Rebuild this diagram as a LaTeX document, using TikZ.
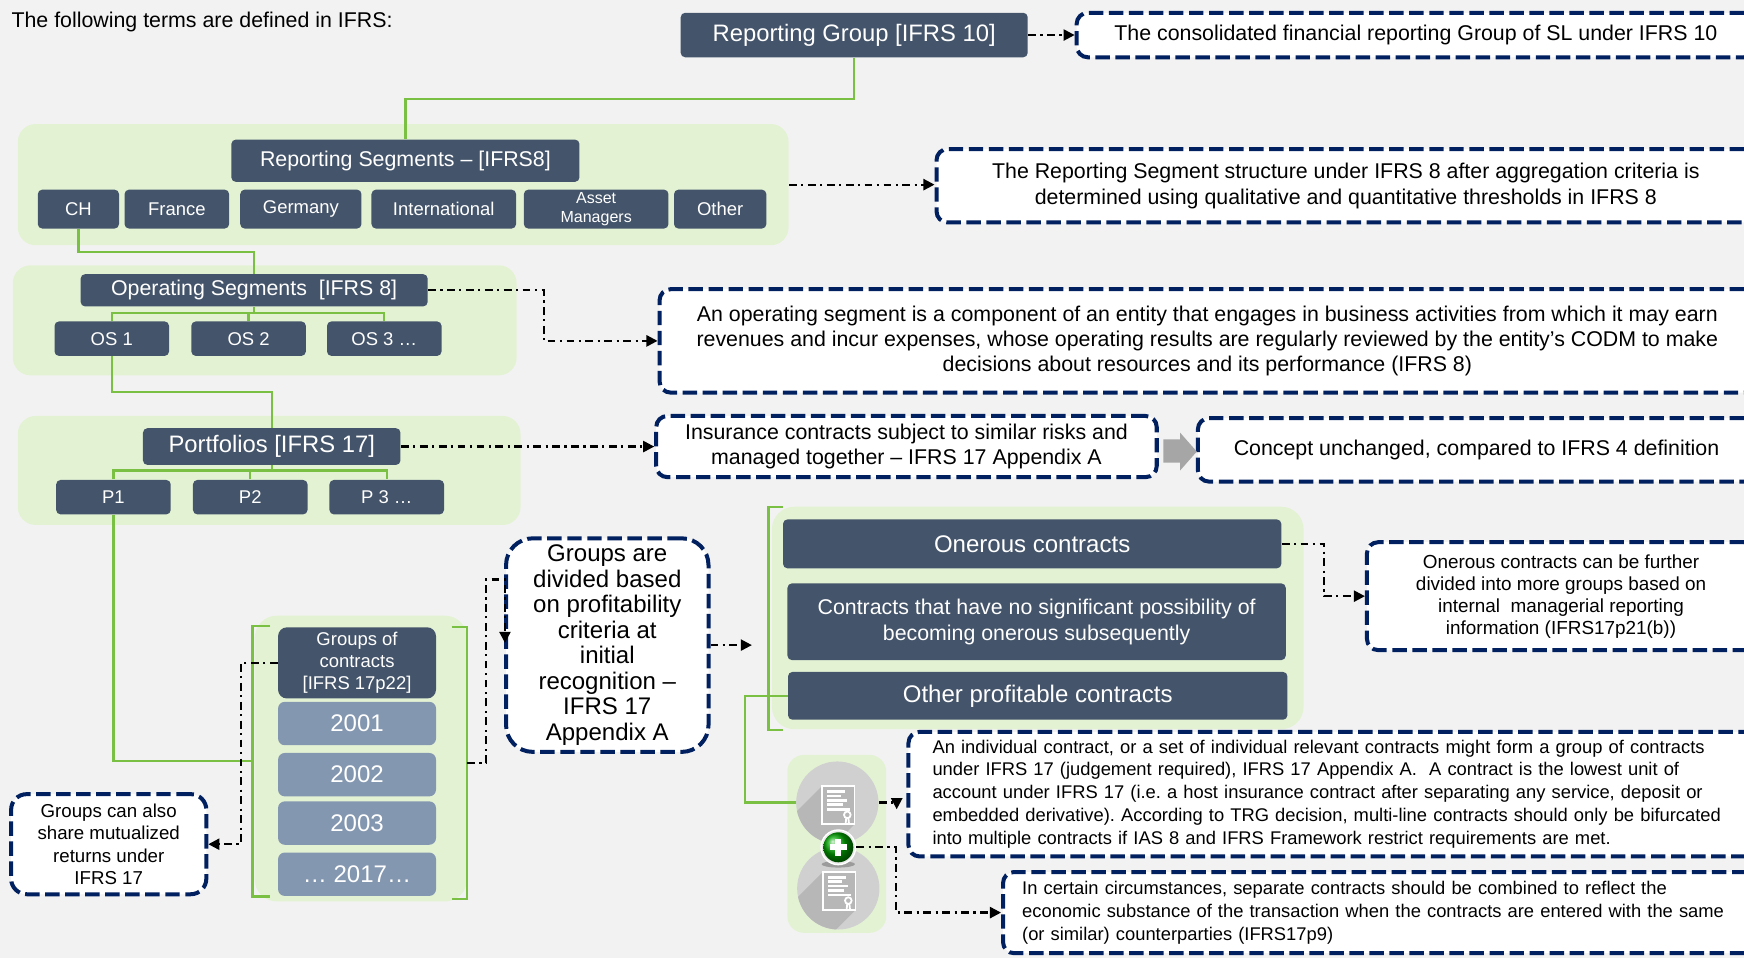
\documentclass[tikz,border=0pt]{standalone}
\usepackage{fontspec}
\setmainfont{Liberation Sans}
\usepackage{tikz}
\usetikzlibrary{arrows.meta}
\frenchspacing
\definecolor{slate}{HTML}{44546A}
\definecolor{yearblue}{HTML}{8497B0}
\definecolor{zonegreen}{HTML}{E4F2D4}
\definecolor{linegreen}{HTML}{7AC143}
\definecolor{navy}{HTML}{002060}
\definecolor{bgc}{HTML}{F2F2F2}
\definecolor{disc}{HTML}{D0D0D0}
\tikzset{dd/.style = {line width=1pt, dash pattern=on 3.5pt off 2pt on 1pt off 2pt,
                      -{Triangle[length=5pt,width=5pt]}}}
\tikzset{
dk/.style={fill=slate, text=white, rounded corners=2pt, inner sep=0pt, align=center},
yr/.style={fill=yearblue, text=white, rounded corners=3pt, inner sep=0pt,
           minimum width=71pt, minimum height=19.5pt, font=\fontsize{10.8}{12}\selectfont},
zone/.style={fill=zonegreen, rounded corners=8pt, inner sep=0pt},
note/.style={draw=navy, line width=1.8pt, dash pattern=on 6.5pt off 2.5pt, fill=white,
             rounded corners=5pt, inner sep=0pt, align=center, font=\fontsize{9.6}{11.3}\selectfont},
gl/.style={draw=linegreen, line width=1pt},
seg/.style={dk, minimum height=17.5pt, font=\fontsize{8.3}{9}\selectfont},
leaf/.style={dk, minimum width=51.5pt, minimum height=15.5pt, font=\fontsize{8.3}{9}\selectfont},
docicon/.pic={
  \begin{scope}
  \clip (0,0) circle (37);
  \fill[disc!88!black] (-13.5,-15) -- (-73.5,45) -- (-73.5,79.5) -- (-44.5,79.5) -- (15.5,19.5) -- (15.5,-15) -- cycle;
  \end{scope}
  \draw[white, line width=.8pt] (-13.5,-15) rectangle (15.5,19.5);
  \foreach \y/\l in {-10/16, -6/12, -2/18, 2/14, 6/20}
    \draw[white, line width=1.2pt] (-9,\y) -- ++(\l,0);
  \draw[white, line width=.8pt] (9,11) circle (3);
  \draw[white, line width=.8pt] (8,14) -- (7.5,19) (10,14) -- (10.5,19);
}
}

\begin{document}
\begin{tikzpicture}[x=0.5pt, y=-0.5pt]
		\useasboundingbox (0,0) rectangle (1568,861);
		\clip (0,0) rectangle (1568,861);
		\fill[bgc] (0,0) rectangle (1568,861);
		\node[anchor=west, inner sep=0pt, font=\fontsize{9.6}{11}\selectfont] (99) at (10,20) {The following terms are defined in IFRS:};
		\node[zone, minimum width=346.5pt, minimum height=54.5pt] (40) at (362.5,166) {};
		\node[zone, minimum width=226.5pt, minimum height=49.5pt] (41) at (238,288) {};
		\node[zone, minimum width=226pt, minimum height=49pt] (42) at (242,423) {};
		\node[zone, minimum width=95.5pt, minimum height=128.5pt, rounded corners=10pt] (43) at (324.5,682) {};
		\node[zone, minimum width=239pt, minimum height=100pt, rounded corners=10pt] (44) at (933,555.6) {};
		\node[zone, minimum width=44.5pt, minimum height=80pt, rounded corners=7.5pt] (45) at (752.3,758.7) {};
		\node[dk, minimum width=156pt, minimum height=20pt, font=\fontsize{10.7}{12}\selectfont] (0) at (768,31.5) {Reporting Group [IFRS 10]};
		\node[note, minimum width=305pt, minimum height=20pt] (1) at (1273,31.5) {The consolidated financial reporting Group of SL under IFRS 10};
		\node[dk, minimum width=156.5pt, minimum height=19pt, font=\fontsize{9.6}{11}\selectfont] (2) at (364.5,144.5) {Reporting Segments – [IFRS8]};
		\node[seg, minimum width=36.5pt] (3) at (70.5,188) {CH};
		\node[seg, minimum width=47pt] (4) at (159,188) {France};
		\node[seg, minimum width=54.5pt] (5) at (270.5,188) {Germany};
		\node[seg, minimum width=65pt] (6) at (399,188) {International};
		\node[seg, minimum width=65pt, font=\fontsize{7.2}{8.5}\selectfont] (7) at (536,188) {Asset\\Managers};
		\node[seg, minimum width=41.5pt] (8) at (647.5,188) {Other};
		\node[note, minimum width=368pt, minimum height=33pt, font=\fontsize{9.6}{11.5}\selectfont] (9) at (1210,167) {The Reporting Segment structure under IFRS 8 after aggregation criteria is\\determined using qualitative and quantitative thresholds in IFRS 8};
		\node[dk, minimum width=156pt, minimum height=14.5pt, font=\fontsize{9.6}{11}\selectfont] (10) at (228.5,261) {Operating Segments\ \ [IFRS 8]};
		\node[leaf] (11) at (100.5,304.5) {OS 1};
		\node[leaf] (12) at (223.5,304.5) {OS 2};
		\node[leaf] (13) at (345.5,304.5) {OS 3 …};
		\node[note, minimum width=492.5pt, minimum height=46.5pt] (14) at (1085.5,306.5) {An operating segment is a component of an entity that engages in business activities from which it may earn\\revenues and incur expenses, whose operating results are regularly reviewed by the entity’s CODM to make\\decisions about resources and its performance (IFRS 8)};
		\node[dk, minimum width=115.75pt, minimum height=16.5pt, font=\fontsize{10.7}{12}\selectfont] (15) at (244.3,401.5) {Portfolios [IFRS 17]};
		\node[leaf] (16) at (102,447) {P1};
		\node[leaf] (17) at (225,447) {P2};
		\node[leaf] (18) at (347.7,447) {P 3 …};
		\node[note, minimum width=225pt, minimum height=27.5pt] (19) at (815,401.5) {Insurance contracts subject to similar risks and\\managed together – IFRS 17 Appendix A};
		\node[note, minimum width=250.5pt, minimum height=28.5pt] (20) at (1327.5,404.5) {Concept unchanged, compared to IFRS 4 definition};
		\fill[black!35] (1046,395) -- (1061,395) -- (1061,389) -- (1076,406) -- (1061,423) -- (1061,416) -- (1046,416) -- cycle;
		\node[dk, rounded corners=4pt, minimum width=71pt, minimum height=32pt, font=\fontsize{8.3}{9.75}\selectfont] (21) at (321,596) {Groups of\\contracts\\{[IFRS 17p22]}};
		\node[yr] (22) at (321,650.5) {2001};
		\node[yr] (23) at (321,696.5) {2002};
		\node[yr] (24) at (321,740) {2003};
		\node[yr] (25) at (321,786) {… 2017…};
		\node[note, rounded corners=7pt, minimum width=87.75pt, minimum height=45pt, font=\fontsize{8.4}{10}\selectfont] (26) at (97.75,759) {Groups can also\\share mutualized\\returns under\\IFRS 17};
		\node[note, rounded corners=12pt, minimum width=91pt, minimum height=96pt, font=\fontsize{10.8}{11.45}\selectfont] (27) at (546,580) {Groups are\\divided based\\on profitability\\criteria at\\initial\\recognition –\\IFRS 17\\Appendix A};
		\node[dk, minimum width=224pt, minimum height=22pt, font=\fontsize{10.8}{12}\selectfont] (28) at (928,489) {Onerous contracts};
		\node[dk, minimum width=224pt, minimum height=34.5pt, font=\fontsize{9.6}{11.5}\selectfont] (29) at (932,559) {Contracts that have no significant possibility of\\becoming onerous subsequently};
		\node[dk, minimum width=224.5pt, minimum height=21.5pt, font=\fontsize{10.8}{12}\selectfont] (30) at (933,625.6) {Other profitable contracts};
		\node[note, minimum width=174.5pt, minimum height=48.5pt, font=\fontsize{8.5}{9.9}\selectfont] (31) at (1403.5,536) {Onerous contracts can be further\\divided into more groups based on\\internal\ \ managerial reporting\\information (IFRS17p21(b))};
		\node[circle, fill=disc, minimum size=37pt, inner sep=0pt] (32) at (752.8,721.6) {};
		\node[circle, fill=disc, minimum size=37pt, inner sep=0pt] (33) at (753.7,798.7) {};
		\pic at (32) {docicon};
		\pic at (33) {docicon};
		\fill[black, opacity=.25] (753.7,777) ellipse (15 and 3);
		\node[circle, fill=black!8, draw=white, line width=.6pt, minimum size=15.6pt, inner sep=0pt] (34) at (753.7,761.8) {};
		\shade[ball color=green!65!black] (34.center) circle (13.5);
		\fill[white] (34.center) ++(-7.5,-2.7) rectangle ++(15,5.4);
		\fill[white] (34.center) ++(-2.7,-7.5) rectangle ++(5.4,15);
		\node[note, anchor=west, align=left, inner xsep=10.8pt, text width=372pt, minimum height=56pt, font=\fontsize{8.25}{10.3}\selectfont] (35) at (815,714) {An individual contract, or a set of individual relevant contracts might form a group of contracts\\under IFRS 17 (judgement required), IFRS 17 Appendix A.\ \ A contract is the lowest unit of\\account under IFRS 17 (i.e. a host insurance contract after separating any service, deposit or\\embedded derivative). According to TRG decision, multi-line contracts should only be bifurcated\\into multiple contracts if IAS 8 and IFRS Framework restrict requirements are met.};
		\node[note, anchor=west, align=left, inner xsep=8.6pt, text width=340pt, minimum height=36.5pt, font=\fontsize{8.25}{10.2}\selectfont] (36) at (900,820.5) {In certain circumstances, separate contracts should be combined to reflect the\\economic substance of the transaction when the contracts are entered with the same\\(or similar) counterparties (IFRS17p9)};
		\coordinate (50) at (227,684);
		\coordinate (51) at (420,686);
		\coordinate (52) at (676,580);
		\draw[gl] (243,563) -- (227,563) -- (227,806) -- (243,806);
		\draw[gl] (406,564) -- (420,564) -- (420,808) -- (406,808);
		\draw[gl] (704,456) -- (691,456) -- (691,656) -- (704,656);
		\draw[gl] (0.south) -- ++(0,37) -| (2.north);
		\draw[gl] (3.south) -- ++(0,21) -| (10.north);
		\draw[gl] (10.south) -- ++(0,6.5);
		\draw[gl] (11.north) -- ++(0,-7) -| (13.north);
		\draw[gl] (12.north) -- ++(0,-7);
		\draw[gl] (11.south) -- ++(0,32) -| (15.north);
		\draw[gl] (15.south) -- ++(0,5.25);
		\draw[gl] (16.north) -- ++(0,-8) -| (18.north);
		\draw[gl] (17.north) -- ++(0,-8);
		\draw[gl] (16.south) |- (50);
		\draw[gl] (30.west) -- ++(-38,0) |- (32.west);
		\draw[dd] (0.east) -- (1.west);
		\draw[dd] (40.east) -- (40.east -| 9.west);
		\draw[dd] (10.east) -- ++(104,0) |- (14.west);
		\draw[dd] (15.east) -- (19.west);
		\draw[dd] (21.west) -- ++(-33,0) |- (26.east);
		\draw[dd] (51) -- ++(17,0) |- ++(17,-165) -- ++(0,57);
		\draw[dd] (27.east) -- (52);
		\draw[dd] (28.east) -- ++(38,0) |- (31.west);
		\draw[dd] (32.east) -- ++(16,0) -- ++(0,6);
		\draw[dd] (34.east) -- ++(36,0) |- (36.west);
	\end{tikzpicture}
\end{document}
